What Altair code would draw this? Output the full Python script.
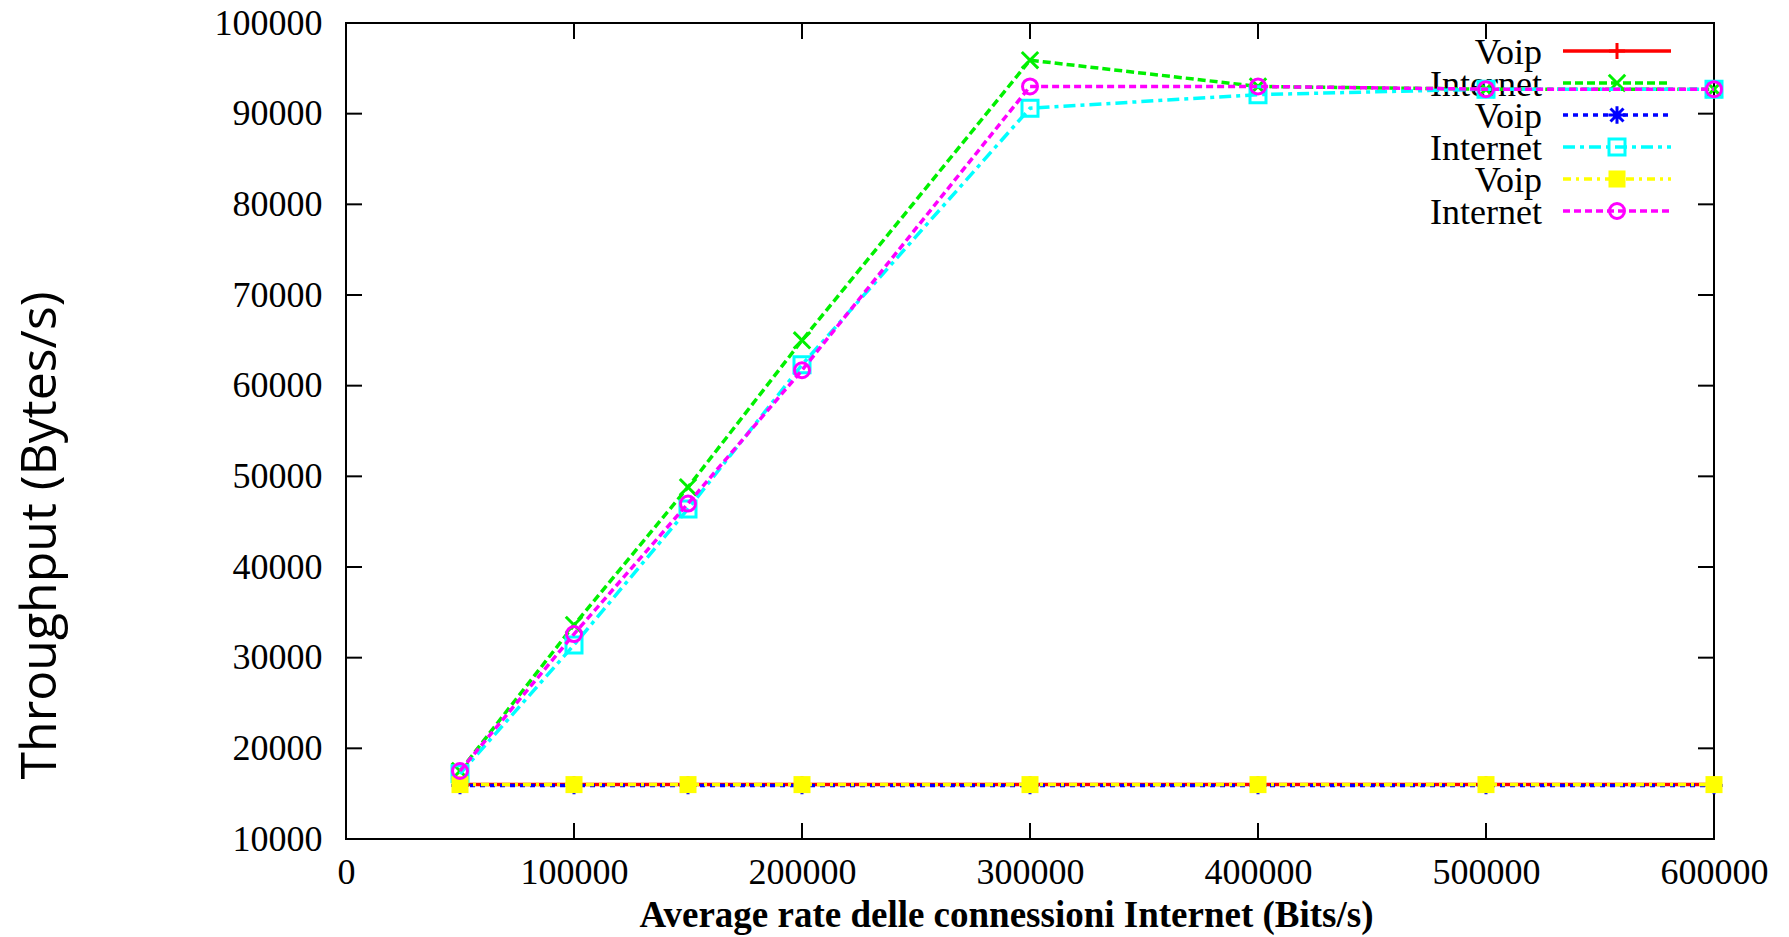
import altair as alt
import pandas as pd

# ---- data ----
x_rates = [50000, 100000, 150000, 200000, 300000, 400000, 500000, 600000]
voip_red = [16000, 16000, 16000, 16000, 16000, 16000, 16000, 16000]
internet_green = [17500, 33600, 48800, 65000, 95900, 93000, 92700, 92700]
voip_blue = [15900, 15900, 15900, 15900, 15900, 15900, 15900, 15900]
internet_cyan = [17200, 31400, 46400, 62300, 90600, 92100, 92700, 92700]
voip_yellow = [16000, 16000, 16000, 16000, 16000, 16000, 16000, 16000]
internet_magenta = [17500, 32600, 47000, 61700, 93000, 93000, 92700, 92700]

legend_labels = ["Voip", "Internet", "Voip", "Internet", "Voip", "Internet"]
y_ticks = [10000, 20000, 30000, 40000, 50000, 60000, 70000, 80000, 90000, 100000]
x_ticks = [0, 100000, 200000, 300000, 400000, 500000, 600000]

# ---- styles ----
PLUS = "M-1,0L1,0M0,-1L0,1"
CROSS = "M-1,-1L1,1M-1,1L1,-1"
STAR = "M-1,0L1,0M0,-1L0,1M-0.75,-0.75L0.75,0.75M-0.75,0.75L0.75,-0.75"

series = [
    (voip_red, "#ff0000", [1, 0], PLUS, False, 260),
    (internet_green, "#00f000", [8, 4], CROSS, False, 270),
    (voip_blue, "#0000ff", [5, 5], STAR, False, 300),
    (internet_cyan, "#00ffff", [12, 5, 4, 5], "square", False, 256),
    (voip_yellow, "#ffff00", [8, 5, 3, 5], "square", True, 290),
    (internet_magenta, "#ff00ff", [7, 4], "circle", False, 225),
]

W, H = 1368, 816
SERIF = "Liberation Serif"
LW = 3.5

xs = alt.Scale(domain=[0, 600000], nice=False, zero=False)
ys = alt.Scale(domain=[10000, 100000], nice=False, zero=False)

x_axis = alt.Axis(
    values=x_ticks, format="d", ticks=False, domain=False, grid=False,
    labelFont=SERIF, labelFontSize=36, labelColor="black", labelPadding=16,
    labelFlush=False, labelOverlap=False, labelBound=False,
    title="Average rate delle connessioni Internet (Bits/s)",
    titleFont=SERIF, titleFontSize=37, titleFontWeight="bold", titleColor="black",
    titleX=660, titleY=76, titleBaseline="middle", titleAlign="center",
)
y_axis = alt.Axis(
    values=y_ticks, format="d", ticks=False, domain=False, grid=False,
    labelFont=SERIF, labelFontSize=36, labelColor="black", labelPadding=24,
    labelFlush=False, labelOverlap=False, labelBound=False,
    title="Throughput (Bytes/s)",
    titleFont="Open Sans", titleFontSize=50, titleFontWeight="normal", titleColor="black",
    titleAngle=270, titleX=-306, titleY=512, titleBaseline="middle", titleAlign="center",
)

X = alt.X("x:Q", scale=xs, axis=x_axis)
Y = alt.Y("y:Q", scale=ys, axis=y_axis)

layers = []

# inward ticks (gnuplot style, mirrored on all four sides)
TL = 16
yt = pd.DataFrame({"y": y_ticks[1:-1]})
xt = pd.DataFrame({"x": x_ticks[1:-1]})
layers.append(alt.Chart(yt).mark_rule(color="black", strokeWidth=2).encode(
    y=Y, x=alt.value(0), x2=alt.value(TL)))
layers.append(alt.Chart(yt).mark_rule(color="black", strokeWidth=2).encode(
    y=Y, x=alt.value(W - TL), x2=alt.value(W)))
layers.append(alt.Chart(xt).mark_rule(color="black", strokeWidth=2).encode(
    x=X, y=alt.value(H - TL), y2=alt.value(H)))
layers.append(alt.Chart(xt).mark_rule(color="black", strokeWidth=2).encode(
    x=X, y=alt.value(0), y2=alt.value(TL)))

# legend (drawn under the data lines, as in the reference)
ROW0, ROWSTEP = 28, 32
for i, (vals, color, dash, shape, filled, size) in enumerate(series):
    ry = ROW0 + ROWSTEP * i
    ld = pd.DataFrame({"label": [legend_labels[i]]})
    layers.append(alt.Chart(ld).mark_text(
        align="right", baseline="middle", font=SERIF, fontSize=36, color="black"
    ).encode(x=alt.value(1196), y=alt.value(ry + 2), text="label:N"))
    layers.append(alt.Chart(ld).mark_rule(
        color=color, strokeWidth=LW, strokeDash=dash
    ).encode(x=alt.value(1217), x2=alt.value(1325), y=alt.value(ry)))
    layers.append(alt.Chart(ld).mark_point(
        shape=shape, filled=filled, color=color, size=size,
        strokeWidth=3, opacity=1
    ).encode(x=alt.value(1271), y=alt.value(ry)))

# data series
for vals, color, dash, shape, filled, size in series:
    df = pd.DataFrame({"x": x_rates, "y": vals})
    base = alt.Chart(df)
    layers.append(base.mark_line(
        color=color, strokeWidth=LW, strokeDash=dash, clip=False
    ).encode(x=X, y=Y))
    layers.append(base.mark_point(
        shape=shape, filled=filled, color=color, size=size,
        strokeWidth=3, opacity=1, clip=False
    ).encode(x=X, y=Y))

chart = alt.layer(*layers).properties(
    width=W, height=H,
    autosize=alt.AutoSizeParams(type="none"),
    padding={"left": 346, "top": 23, "right": 75, "bottom": 98},
    background="white",
).configure_view(
    stroke="black", strokeWidth=2
)

chart.save("out.html", embed_options={"renderer": "svg", "actions": False})
